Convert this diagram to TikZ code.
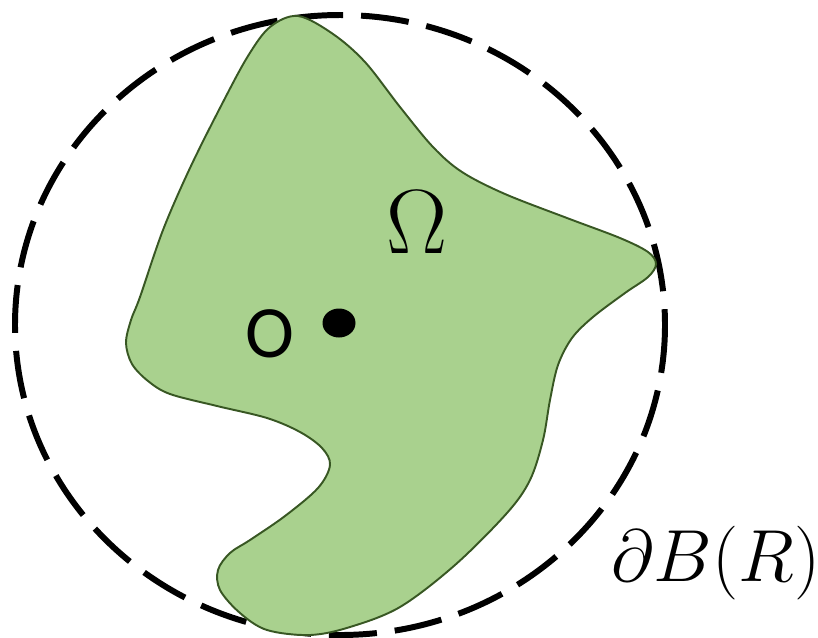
\RequirePackage{fix-cm}
\documentclass[tikz,border=0pt]{standalone}
\usepackage{fontspec}
\newfontfamily\calfont{Carlito}
\usetikzlibrary{shapes.geometric}
\definecolor{domfill}{RGB}{169,209,142}
\definecolor{domline}{RGB}{56,87,35}

\begin{document}
\begin{tikzpicture}[
    x=0.02cm, y=-0.02cm,
    ballline/.style={draw=black, line width=3.4pt, dash pattern=on 0.96cm off 0.36cm},
    region/.style={fill=domfill, draw=domline, line width=1.1pt},
    lbl/.style={inner sep=0pt, text=black},
    dotnode/.style={ellipse, fill=black, inner sep=0pt, minimum width=0.66cm, minimum height=0.58cm}
]
\useasboundingbox (0,0) rectangle (818,637);

% the ball B(R), dashed boundary
\draw[ballline] (340,325) ellipse [x radius=325, y radius=310];

% the domain Omega
\draw[region] plot[smooth cycle, tension=0.55] coordinates {
  (298,16) (333,34) (365,62) (400,107) (433,147) (462,172) (505,194)
  (567,218) (620,238) (648,252) (656,264) (648,277) (625,293) (593,317)
  (572,338) (558,365) (550,400) (543,440) (530,480) (507,513) (455,565)
  (400,607) (350,627) (310,635) (267,630) (240,613) (220,590) (218,570)
  (230,553) (250,540) (285,516) (318,488) (330,465) (322,448) (300,432)
  (267,418) (217,406) (170,394) (148,381) (132,364) (126,343) (131,320)
  (140,297) (163,230) (190,168) (222,104) (248,56) (270,27)};

% origin and labels
\node[dotnode] (origin) at (339,323) {};
\node[lbl] (olabel) at (270,334) {\calfont\fontsize{42}{48}\selectfont O};
\node[lbl] (omega) at (417,222) {\fontsize{52}{60}\selectfont$\Omega$};
\node[lbl] (ballname) at (716,563) {\fontsize{42}{48}\selectfont$\partial B(R)$};
\end{tikzpicture}
\end{document}
